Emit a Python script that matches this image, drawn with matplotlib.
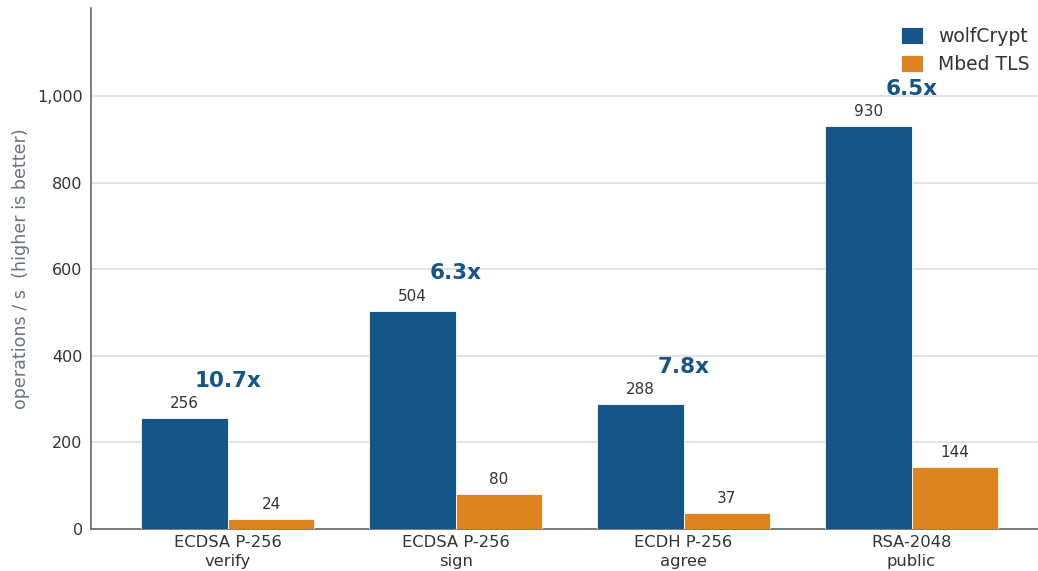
import numpy as np
import matplotlib.pyplot as plt

categories = ["ECDSA P-256\nverify", "ECDSA P-256\nsign", "ECDH P-256\nagree", "RSA-2048\npublic"]
wolfcrypt = [256, 504, 288, 930]
mbedtls = [24, 80, 37, 144]
ratios = ["10.7x", "6.3x", "7.8x", "6.5x"]

blue = "#15558a"
orange = "#dd8320"

fig = plt.figure(figsize=(10.38, 5.71), dpi=100)
ax = fig.add_axes([91 / 1038, 42 / 571, (1038 - 91) / 1038, (529 - 8) / 571])

x = np.arange(len(categories))
w = 0.38
b1 = ax.bar(x - w / 2, wolfcrypt, w, color=blue, edgecolor="white", linewidth=0.6, label="wolfCrypt", zorder=3)
b2 = ax.bar(x + w / 2, mbedtls, w, color=orange, edgecolor="white", linewidth=0.6, label="Mbed TLS", zorder=3)

for bars in (b1, b2):
    for r in bars:
        ax.annotate(f"{int(r.get_height())}", (r.get_x() + r.get_width() / 2, r.get_height()),
                    xytext=(0, 5), textcoords="offset points", ha="center", va="bottom",
                    fontsize=11, color="#333333")

for i, t in enumerate(ratios):
    ax.text(x[i], wolfcrypt[i] + 86, t, ha="center", va="center",
            fontsize=15.5, fontweight="bold", color=blue)

ax.set_xlim(-0.6, 3.555)
ax.set_ylim(0, 1203)
ax.set_yticks([0, 200, 400, 600, 800, 1000])
ax.set_yticklabels(["0", "200", "400", "600", "800", "1,000"])
ax.set_xticks(x)
ax.set_xticklabels(categories, fontsize=11.8, color="#333333", linespacing=1.3)
ax.tick_params(axis="y", labelsize=11.5, labelcolor="#333333", length=0, pad=6)
ax.tick_params(axis="x", length=0, pad=4.5)
ax.yaxis.grid(True, color="#dddddd", linewidth=1.2, zorder=0)
ax.set_axisbelow(True)

for s in ("top", "right"):
    ax.spines[s].set_visible(False)
for s in ("left", "bottom"):
    ax.spines[s].set_color("#666666")
    ax.spines[s].set_linewidth(1.2)

ax.set_ylabel("operations / s  (higher is better)", fontsize=12.6, color="#6b7280", labelpad=5)

ax.legend(loc="upper right", frameon=False, fontsize=13.5, handlelength=1.2, handleheight=1.0,
          borderaxespad=0.2, labelspacing=0.45, bbox_to_anchor=(1.0 + 3 / 947, 1.0 - 8 / 521),
          labelcolor="#333333")

fig.savefig("out.png", dpi=100)
